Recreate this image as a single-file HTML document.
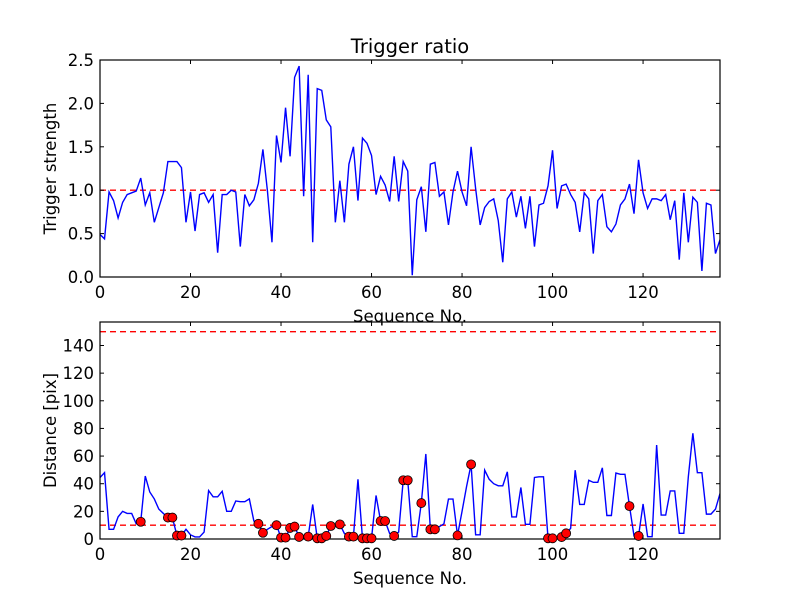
<!DOCTYPE html>
<html><head><meta charset="utf-8"><style>
html,body{margin:0;padding:0;background:#fff;}
svg{display:block;font-family:"DejaVu Sans","Liberation Sans",sans-serif;}
</style></head><body>
<svg id="fig" width="800" height="600" viewBox="0 0 800 600"></svg>
<script>
const ratio = [0.49,0.44,0.98,0.88,0.68,0.86,0.95,0.97,0.99,1.14,0.83,0.97,0.63,0.80,0.97,1.33,1.33,1.33,1.26,0.63,0.98,0.53,0.95,0.97,0.86,0.95,0.28,0.95,0.95,1.0,0.98,0.35,0.95,0.82,0.89,1.08,1.47,0.99,0.40,1.63,1.32,1.95,1.39,2.30,2.43,0.93,2.33,0.40,2.17,2.15,1.81,1.73,0.63,1.11,0.63,1.30,1.50,0.88,1.60,1.54,1.40,0.95,1.16,1.06,0.87,1.39,0.87,1.33,1.22,0.02,0.89,1.04,0.52,1.30,1.32,0.93,0.98,0.60,0.98,1.22,0.98,0.82,1.50,1.02,0.60,0.80,0.87,0.90,0.65,0.17,0.90,0.98,0.69,0.93,0.56,0.93,0.35,0.83,0.85,1.05,1.46,0.79,1.05,1.07,0.95,0.86,0.52,0.97,0.90,0.27,0.88,0.95,0.58,0.52,0.61,0.83,0.90,1.07,0.73,1.35,0.97,0.79,0.90,0.90,0.88,0.95,0.66,0.88,0.20,0.97,0.40,0.92,0.86,0.07,0.85,0.83,0.27,0.43];
const distance = [44.5,48,7,7,16,20,18.5,18.5,11,12.5,45.5,34,29,21.6,18.5,15.5,15.5,2.5,2.5,7,3,1.5,1.5,5,35,30.5,30.5,34.5,20,20,27.5,27,27,29,13,11,4.5,7,9,10,1,1,8,9,1.5,2,1.7,25,0.5,0.5,2.2,9.4,10,10.6,4,1.7,1.7,43.2,0.5,0.5,0.5,31.5,13,13,4,2.2,5,42.5,42.5,1.7,1.7,26,61.5,7,7,9,11,28.9,28.9,2.6,20,38,54,3,3,49.8,43.2,40,38.5,38.5,48.6,16,16,37.3,10.6,10.6,44.5,45,45,0.5,0.5,1,1.4,4.1,7.7,49.8,25,25,42.5,41,41,51.5,17,17,47.7,46.8,46.8,23.8,2.2,2.2,25.3,1.7,1.7,68,17.3,17.3,34.8,34.8,4.1,4.1,45,76.5,48,48,18,18,21.6,32.9];
const flagged = [9,15,16,17,18,35,36,39,40,41,42,43,44,46,48,49,50,51,53,55,56,58,59,60,62,63,65,67,68,71,73,74,79,82,99,100,102,103,117,119];
const xTicks = [0,20,40,60,80,100,120];
const topYTicks = [0,0.5,1.0,1.5,2.0,2.5];
const botYTicks = [0,20,40,60,80,100,120,140];
const topRefLines = [1.0];
const botRefLines = [10,150];

const NS="http://www.w3.org/2000/svg";
const svg=document.getElementById('fig');
function mk(tag,attrs,parent){const e=document.createElementNS(NS,tag);for(const k in attrs)e.setAttribute(k,attrs[k]);(parent||svg).appendChild(e);return e;}

const L=100,R=720,XMAX=137;
const sx=v=>L+(v/XMAX)*(R-L);

function panel(top,bottom,ymax,yTicks,fmt,refs,data,name,ylabel){
  const sy=v=>bottom-(v/ymax)*(bottom-top);
  const g=mk('g',{});
  
  
  const cid='clip-'+name;
  const cp=mk('clipPath',{id:cid},g);mk('rect',{x:L,y:top,width:R-L,height:bottom-top},cp);
  refs.forEach(r=>{
    const l=mk('line',{x1:L,x2:R,y1:sy(r),y2:sy(r),stroke:'#ff0000','stroke-width':1.3,'stroke-dasharray':'6,4','clip-path':'url(#'+cid+')'},g);
    
    
  });
  const pts=data.map((v,i)=>sx(i).toFixed(2)+','+sy(v).toFixed(2)).join(' ');
  const pl=mk('polyline',{points:pts,fill:'none',stroke:'#0000ff','stroke-width':1.4,'clip-path':'url(#'+cid+')'},g);
  
  
  const ax=mk('rect',{x:L,y:top,width:R-L,height:bottom-top,fill:'none',stroke:'#000','stroke-width':1.2},g);
  
  
  xTicks.forEach(t=>{
    const x=sx(t);
    mk('line',{x1:x,x2:x,y1:bottom,y2:bottom-4,stroke:'#000'},g);
    mk('line',{x1:x,x2:x,y1:top,y2:top+4,stroke:'#000'},g);
    const tx=mk('text',{x:x,y:bottom+21,'text-anchor':'middle','font-size':'16.5px'},g);
    tx.textContent=t;
    
    
  });
  yTicks.forEach(t=>{
    const y=sy(t);
    mk('line',{x1:L,x2:L+4,y1:y,y2:y,stroke:'#000'},g);
    mk('line',{x1:R,x2:R-4,y1:y,y2:y,stroke:'#000'},g);
    const tx=mk('text',{x:L-6,y:y+6,'text-anchor':'end','font-size':'16.5px'},g);
    tx.textContent=fmt(t);
    
    
  });
  const xl=mk('text',{x:410,y:bottom+45,'text-anchor':'middle','font-size':'16.5px'},g);
  xl.textContent='Sequence No.';
  
  
  const cy=(top+bottom)/2;
  const yl=mk('text',{x:56,y:cy,'text-anchor':'middle','font-size':'16.5px',transform:'rotate(-90 56 '+cy+')'},g);
  yl.textContent=ylabel;
  
  
  return sy;
}

panel(60,277,2.5,topYTicks,v=>v.toFixed(1),topRefLines,ratio,'trigger-ratio-panel','Trigger strength');
const syB=panel(322,539,157,botYTicks,v=>String(v),botRefLines,distance,'distance-panel','Distance [pix]');
flagged.forEach(i=>{
  const c=mk('circle',{cx:sx(i),cy:syB(distance[i]),r:4.5,fill:'#ff0000',stroke:'#000','stroke-width':0.8});
  
  
});
const title=mk('text',{x:410,y:53,'text-anchor':'middle','font-size':'19.5px'});
title.textContent='Trigger ratio';


</script>
</body></html>
